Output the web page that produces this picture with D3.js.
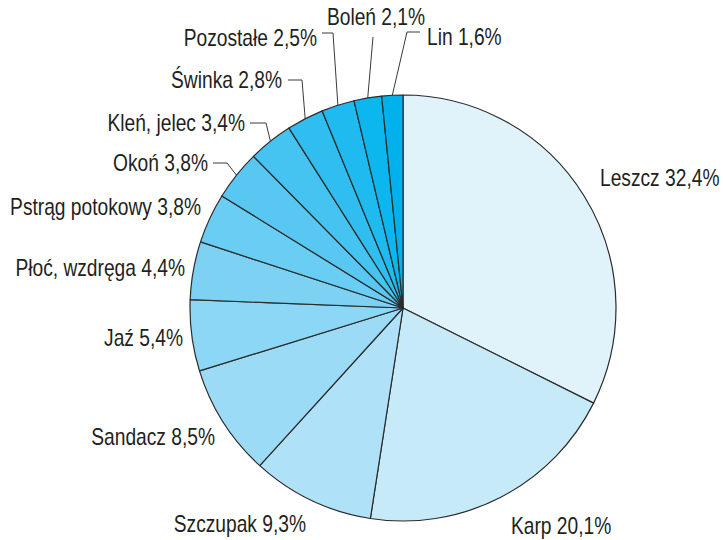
<!DOCTYPE html>
<html>
<head>
<meta charset="utf-8">
<script src="https://cdn.jsdelivr.net/npm/d3@7"></script>
<style>
    body { margin: 0; background: #fff; }
    text { font-family: "Liberation Sans", Arial, sans-serif; font-size: 24px; fill: #231f20; }
</style>
</head>
<body>
<div id="chart"></div>
<script>
(function () {

    // dane
    var species = ["Leszcz", "Karp", "Szczupak", "Sandacz", "Jaź", "Płoć, wzdręga",
        "Pstrąg potokowy", "Okoń", "Kleń, jelec", "Świnka", "Pozostałe", "Boleń", "Lin"];
    var shares = [32.4, 20.1, 9.3, 8.5, 5.4, 4.4, 3.8, 3.8, 3.4, 2.8, 2.5, 2.1, 1.6];
    var colors = ["#e0f3fb", "#c7eaf9", "#afe2f8", "#9bdbf6", "#8cd7f5", "#7dd2f4",
        "#6acdf3", "#58c8f2", "#45c3f1", "#30bef0", "#1ebaf0", "#0cb6ee", "#00b1ec"];

    // label placement: straight labels (x, y, anchor) and leader labels (elbow + text)
    var labelLayout = [
        { x: 600, y: 178, anchor: "start" },
        { x: 511, y: 526, anchor: "start" },
        { x: 306, y: 524, anchor: "end" },
        { x: 215, y: 437, anchor: "end" },
        { x: 183, y: 338, anchor: "end" },
        { x: 185, y: 268, anchor: "end" },
        { x: 201, y: 207, anchor: "end" },
        { x: 208, y: 163, anchor: "end", line: [[213, 163], [227, 163]] },
        { x: 245, y: 123, anchor: "end", line: [[250, 123], [266, 123]] },
        { x: 282, y: 80, anchor: "end", line: [[288, 80], [302, 80]] },
        { x: 317, y: 38, anchor: "end", line: [[322, 33], [333, 33]] },
        { x: 376, y: 17, anchor: "middle", line: [[373, 37]] },
        { x: 427, y: 37, anchor: "start", line: [[420, 32], [407, 32]] }
    ];

    var width = 723, height = 540;
    var cx = 403, cy = 308, radius = 213;
    var squeeze = 0.8; // condensed face look

    var svg = d3.select("#chart").append("svg")
        .attr("width", width)
        .attr("height", height);

    var pie = d3.pie().sort(null).value(function (d) { return d; });
    var arcs = pie(shares);
    var arc = d3.arc().innerRadius(0).outerRadius(radius);

    var g = svg.append("g").attr("transform", "translate(" + cx + "," + cy + ")");

    g.selectAll("path")
        .data(arcs)
        .enter()
        .append("path")
        .attr("d", arc)
        .style("fill", function (d, i) { return colors[i]; })
        .style("stroke", "#2b2b2b")
        .style("stroke-width", 1.2)
        .style("stroke-linejoin", "round");

    // leader lines end on the rim at the slice's mid angle
    var line = d3.line();
    arcs.forEach(function (d, i) {
        var lay = labelLayout[i];
        if (!lay.line) return;
        var mid = (d.startAngle + d.endAngle) / 2;
        var rim = [cx + radius * Math.sin(mid), cy - radius * Math.cos(mid)];
        svg.append("path")
            .attr("d", line(lay.line.concat([rim])))
            .style("fill", "none")
            .style("stroke", "#3a3a3a")
            .style("stroke-width", 1);
    });

    svg.selectAll("text.lbl")
        .data(arcs)
        .enter()
        .append("text")
        .attr("class", "lbl")
        .attr("transform", function (d, i) {
            return "translate(" + labelLayout[i].x + "," + labelLayout[i].y + ") scale(" + squeeze + ",1)";
        })
        .attr("dy", "0.35em")
        .attr("text-anchor", function (d, i) { return labelLayout[i].anchor; })
        .text(function (d, i) { return species[i] + " " + String(shares[i]).replace(".", ",") + "%"; });
})();
</script>
</body>
</html>
